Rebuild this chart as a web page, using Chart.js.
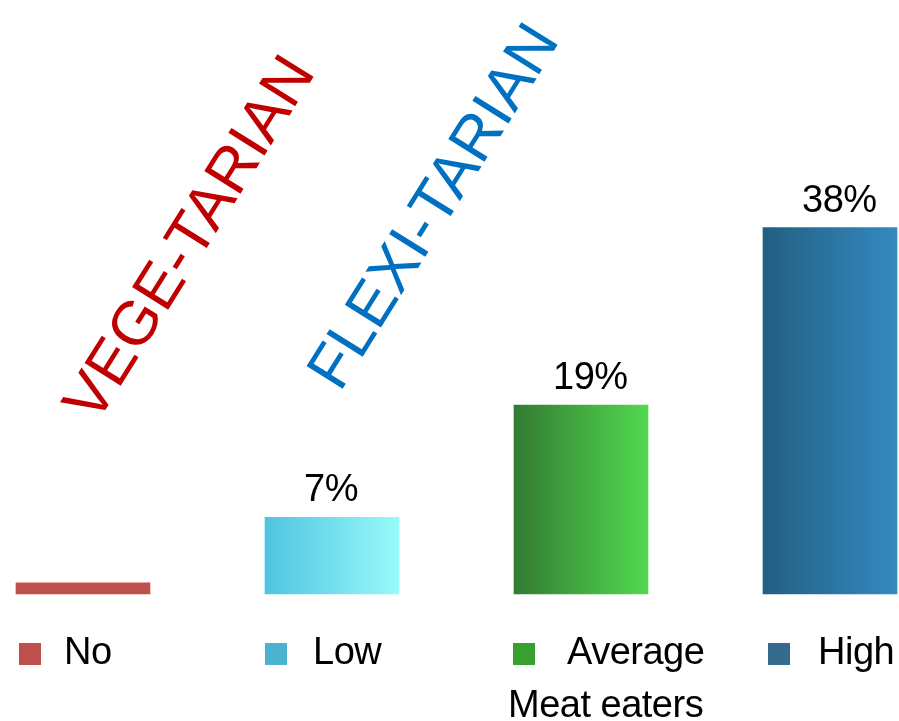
<!DOCTYPE html>
<html>
<head>
<meta charset="utf-8">
<script src="https://cdn.jsdelivr.net/npm/chart.js@4/dist/chart.umd.min.js"></script>
<style>
  body { margin: 0; background: #fff; overflow: hidden; }
  canvas { display: block; }
</style>
</head>
<body>
<canvas id="meat-chart" width="899" height="721"></canvas>
<script>
// categories and values
const categories = ['No', 'Low', 'Average', 'High']
const shares = [0, 7, 19, 38]
const valueLabels = ['', '7%', '19%', '38%']
const groupLabels = ['VEGE-TARIAN', 'FLEXI-TARIAN']
const axisTitle = 'Meat eaters'

// colours: bar gradient left -> right, and the little key squares
const barStart = ['#c0504d', '#50c4df', '#327b32', '#225f82']
const barEnd = ['#c0504d', '#98fafa', '#52d94f', '#3489c0']
const keyColors = ['#c0504d', '#4bb2cf', '#37a02e', '#356b8e']
const groupColors = ['#c00000', '#0070c0']

const FONT = '"Liberation Sans", Arial, sans-serif'
const BAR_W = 134
const BASE = -1.2

// gradient per bar, built from the bar's own x position
function barFill (ctx) {
    let chart = ctx.chart
    let i = ctx.dataIndex
    if (!chart.chartArea || i === undefined) return barStart[0]
    let x = chart.scales.x.getPixelForValue(i)
    let g = chart.ctx.createLinearGradient(x - BAR_W / 2, 0, x + BAR_W / 2, 0)
    g.addColorStop(0, barStart[i])
    g.addColorStop(1, barEnd[i])
    return g
}

// labels above bars, key squares under them, and the diagonal group names
const extras = {
    id: 'extras',
    afterDatasetsDraw (chart) {
        let c = chart.ctx
        let bars = chart.getDatasetMeta(0).data
        c.save()
        c.fillStyle = '#000'
        c.textBaseline = 'alphabetic'
        c.textAlign = 'left'
        c.font = '38px ' + FONT
        c.letterSpacing = '-0.5px'

        bars.forEach((bar, i) => {
            if (valueLabels[i]) c.fillText(valueLabels[i], bar.x - 28, bar.y - 16)
        })

        let keyShift = [3, 0, -1, 5]
        let textGap = [45, 48, 54, 50]
        bars.forEach((bar, i) => {
            let left = bar.x - BAR_W / 2 + keyShift[i]
            c.fillStyle = keyColors[i]
            c.fillRect(left, 643, 22, 22)
            c.fillStyle = '#000'
            c.fillText(categories[i], left + textGap[i], 664)
        })

        c.fillText(axisTitle, bars[2].x - BAR_W / 2 - 6, 717)

        // rotated group names over the first two bars
        c.font = '62px ' + FONT
        c.letterSpacing = '0px'
        let starts = [[bars[0].x + 13, 425], [bars[1].x + 8, 393]]
        groupLabels.forEach((txt, i) => {
            c.save()
            c.translate(starts[i][0], starts[i][1])
            c.rotate(-58 * Math.PI / 180)
            c.fillStyle = groupColors[i]
            c.fillText(txt, 0, 0)
            c.restore()
        })
        c.restore()
    }
}

let context = document.querySelector('#meat-chart').getContext('2d')

let meatChart = new Chart(context, {
    type: 'bar',
    data: {
        labels: categories,
        datasets: [
            {
                data: shares,
                base: BASE,
                backgroundColor: barFill,
                borderWidth: 0,
                barThickness: BAR_W,
                clip: false
            }
        ]
    },
    options: {
        responsive: false,
        animation: false,
        layout: { padding: { left: 83, right: 69, top: 22, bottom: 127 } },
        plugins: { legend: { display: false }, tooltip: { enabled: false } },
        scales: {
            x: { display: false, offset: false, grid: { offset: false } },
            y: { display: false, min: BASE, max: 60 }
        }
    },
    plugins: [extras]
})
</script>
</body>
</html>
